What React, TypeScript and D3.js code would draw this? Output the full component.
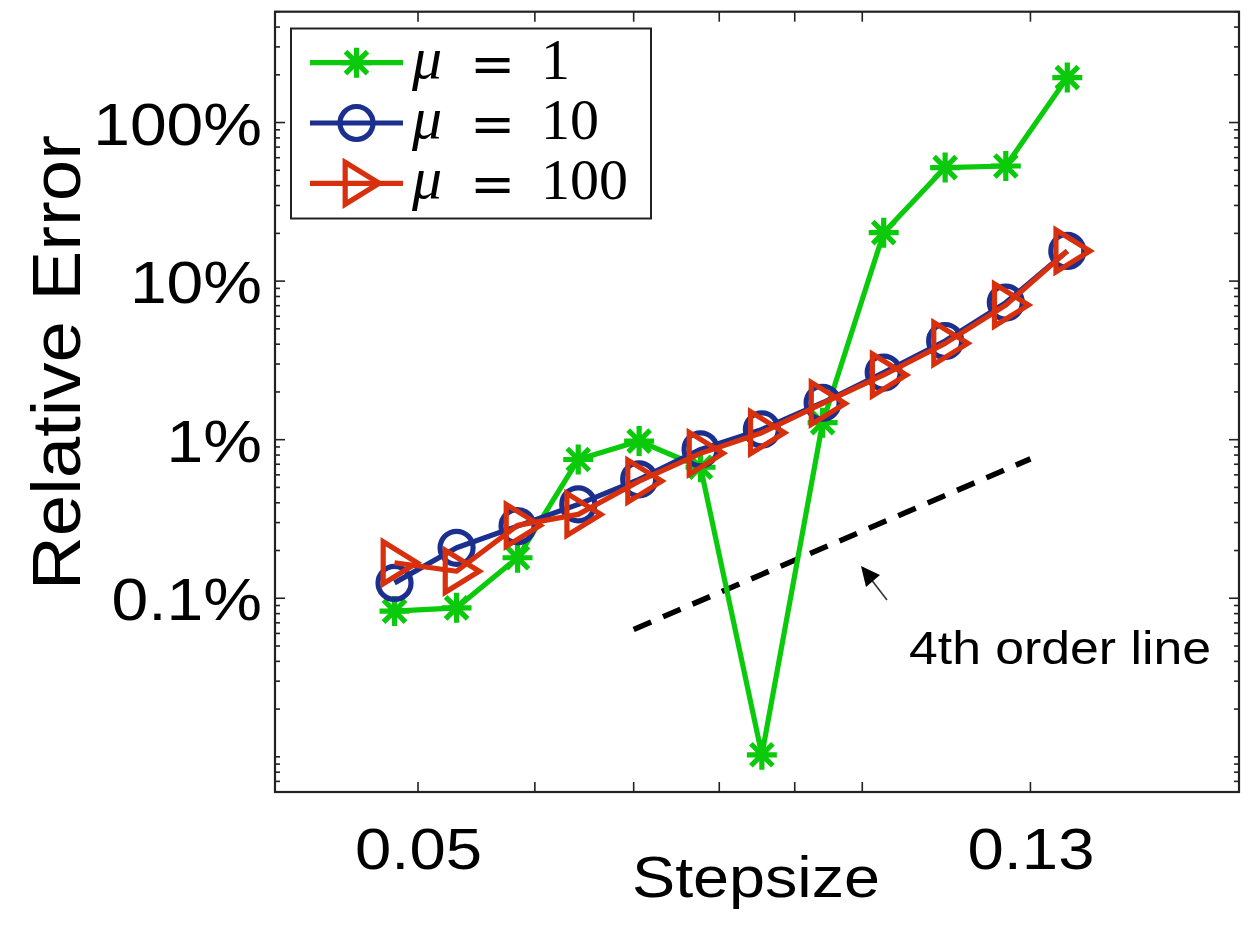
import React from "react";
import * as d3 from "d3";

const stepsizes = [0.0482, 0.0531, 0.0584, 0.0642, 0.0706, 0.0777, 0.0855, 0.094, 0.1034, 0.1138, 0.1251, 0.1377];
const errMu1 = [0.083, 0.087, 0.18, 0.75, 0.98, 0.67, 0.0103, 1.28, 20.2, 52, 53.2, 192];
const errMu10 = [0.125, 0.208, 0.285, 0.391, 0.562, 0.869, 1.16, 1.71, 2.65, 4.19, 7.32, 15.5];
const errMu100 = [0.1675, 0.148, 0.288, 0.338, 0.548, 0.82, 1.107, 1.694, 2.56, 4.05, 7.07, 15.5];
const refLineX = [0.07, 0.13];
const refLineY = [0.0636, 0.757];
const xTickValues = [0.05, 0.06, 0.07, 0.08, 0.09, 0.1, 0.13];
const xTickLabels = ["0.05", "", "", "", "", "", "0.13"];
const yMajorValues = [0.1, 1, 10, 100];
const yMajorLabels = ["0.1%", "1%", "10%", "100%"];
const legendLabels = ["1", "10", "100"];

const W = 1245, H = 937;
const L = 275, R = 1239, T = 11.7, B = 792;
const GREEN = "#0bc90b", BLUE = "#1b2f8e", RED = "#d8300c";
const LW = 5.2;

export default function App() {
  const x = d3.scaleLog().domain([0.04, 0.18]).range([L, R]);
  const y = d3.scaleLog().domain([0.006, 500]).range([B, T]);

  const line = d3.line<[number, number]>().x(d => x(d[0])).y(d => y(d[1]));
  const pts = (arr: number[]) => stepsizes.map((s, i) => [s, arr[i]] as [number, number]);

  const yMinor: number[] = [];
  for (let e = -3; e <= 2; e++) {
    for (let m = 1; m <= 9; m++) {
      const v = m * Math.pow(10, e);
      if (v >= 0.006 && v <= 500 && !yMajorValues.includes(+v.toPrecision(6))) yMinor.push(v);
    }
  }

  const star = (cx: number, cy: number, a = 15, b = 11) =>
    `M${cx - a},${cy}L${cx + a},${cy}M${cx},${cy - a}L${cx},${cy + a}M${cx - b},${cy - b}L${cx + b},${cy + b}M${cx - b},${cy + b}L${cx + b},${cy - b}`;
  const tri = (cx: number, cy: number, w = 34, h = 42) =>
    `M${cx - w / 3},${cy - h / 2}L${cx + (2 * w) / 3},${cy}L${cx - w / 3},${cy + h / 2}Z`;

  const sansFont = "'Liberation Sans', Arial, Helvetica, sans-serif";
  const serifFont = "'Liberation Serif', 'DejaVu Serif', serif";

  const legendRows = [
    { color: GREEN, kind: "star", label: legendLabels[0] },
    { color: BLUE, kind: "circle", label: legendLabels[1] },
    { color: RED, kind: "tri", label: legendLabels[2] },
  ];

  const arrowTip = [861, 566];
  const arrowTail = [887, 600];

  return (
    <svg width={W} height={H} style={{ position: "absolute", left: 0, top: 0, background: "#fff" }}>
      <rect x={0} y={0} width={W} height={H} fill="#fff" />
      <defs>
        <clipPath id="plotclip">
          <rect x={L} y={T} width={R - L} height={B - T} />
        </clipPath>
      </defs>

      <g stroke="#222" strokeWidth={1.6}>
        {xTickValues.map((v, i) => (
          <g key={"xt" + i}>
            <line x1={x(v)} x2={x(v)} y1={B} y2={B - 10} />
            <line x1={x(v)} x2={x(v)} y1={T} y2={T + 10} />
          </g>
        ))}
        {yMajorValues.map((v, i) => (
          <g key={"yt" + i}>
            <line x1={L} x2={L + 10} y1={y(v)} y2={y(v)} />
            <line x1={R} x2={R - 10} y1={y(v)} y2={y(v)} />
          </g>
        ))}
        {yMinor.map((v, i) => (
          <g key={"ym" + i}>
            <line x1={L} x2={L + 5} y1={y(v)} y2={y(v)} />
            <line x1={R} x2={R - 5} y1={y(v)} y2={y(v)} />
          </g>
        ))}
      </g>

      <path
        d={line(refLineX.map((v, i) => [v, refLineY[i]] as [number, number])) || ""}
        stroke="#000"
        strokeWidth={5.5}
        strokeDasharray="19,13"
        fill="none"
      />

      <g clipPath="url(#plotclip)">
        <path d={line(pts(errMu1)) || ""} stroke={GREEN} strokeWidth={LW} fill="none" strokeLinejoin="round" />
        {pts(errMu1).map((p, i) => (
          <path key={"s" + i} d={star(x(p[0]), y(p[1]))} stroke={GREEN} strokeWidth={LW} fill="none" />
        ))}
        <path d={line(pts(errMu10)) || ""} stroke={BLUE} strokeWidth={LW} fill="none" strokeLinejoin="round" />
        {pts(errMu10).map((p, i) => (
          <circle key={"c" + i} cx={x(p[0])} cy={y(p[1])} r={16.5} stroke={BLUE} strokeWidth={LW} fill="none" />
        ))}
        <path d={line(pts(errMu100)) || ""} stroke={RED} strokeWidth={LW} fill="none" strokeLinejoin="round" />
        {pts(errMu100).map((p, i) => (
          <path key={"t" + i} d={tri(x(p[0]), y(p[1]))} stroke={RED} strokeWidth={LW} fill="none" />
        ))}
      </g>

      <rect x={L} y={T} width={R - L} height={B - T} fill="none" stroke="#222" strokeWidth={2.2} />

      <line x1={arrowTail[0]} y1={arrowTail[1]} x2={arrowTip[0] + 6} y2={arrowTip[1] + 8} stroke="#333" strokeWidth={1.6} />
      <path
        d={`M${arrowTip[0]},${arrowTip[1]}L${arrowTip[0] + 19},${arrowTip[1] + 9}L${arrowTip[0] + 5},${arrowTip[1] + 21}Z`}
        fill="#000"
      />
      <text x={909} y={664} fontFamily={sansFont} fontSize={46} textLength={302} lengthAdjust="spacingAndGlyphs" fill="#000">
        4th order line
      </text>

      {xTickValues.map((v, i) =>
        xTickLabels[i] ? (
          <text
            key={"xl" + i}
            x={x(v) - 63}
            y={869}
            fontFamily={sansFont}
            fontSize={58}
            textLength={127}
            lengthAdjust="spacingAndGlyphs"
            fill="#000"
          >
            {xTickLabels[i]}
          </text>
        ) : null
      )}
      {yMajorValues.map((v, i) => (
        <text
          key={"yl" + i}
          x={262}
          y={y(v) + 22}
          textAnchor="end"
          fontFamily={sansFont}
          fontSize={60}
          fill="#000"
          transform={`translate(262,0) scale(1.1,1) translate(-262,0)`}
        >
          {yMajorLabels[i]}
        </text>
      ))}

      <text x={632} y={897} fontFamily={sansFont} fontSize={58} textLength={248} lengthAdjust="spacingAndGlyphs" fill="#000">
        Stepsize
      </text>
      <text
        transform={`translate(80,590) rotate(-90)`}
        x={0}
        y={0}
        fontFamily={sansFont}
        fontSize={68}
        textLength={455}
        lengthAdjust="spacingAndGlyphs"
        fill="#000"
      >
        Relative Error
      </text>

      <rect x={291} y={28.5} width={360} height={190} fill="#fff" stroke="#222" strokeWidth={2} />
      {legendRows.map((r, i) => {
        const cy = 62.7 + i * 60.3;
        const cx = 356.5;
        return (
          <g key={"lg" + i}>
            <line x1={310} x2={403} y1={cy} y2={cy} stroke={r.color} strokeWidth={LW} />
            {r.kind === "star" && <path d={star(cx, cy)} stroke={r.color} strokeWidth={LW} fill="none" />}
            {r.kind === "circle" && <circle cx={cx} cy={cy} r={16.5} stroke={r.color} strokeWidth={LW} fill="none" />}
            {r.kind === "tri" && <path d={tri(cx, cy)} stroke={r.color} strokeWidth={LW} fill="none" />}
            <text y={cy + 15} fontFamily={serifFont} fontSize={56} fill="#000">
              <tspan x={412} fontStyle="italic" fontSize={60}>μ</tspan>
              <tspan x={470} y={cy + 20} fontFamily="'DejaVu Serif', serif" fontSize={54}>=</tspan>
              <tspan x={541} y={cy + 16} fontSize={58}>{r.label}</tspan>
            </text>
          </g>
        );
      })}
    </svg>
  );
}
